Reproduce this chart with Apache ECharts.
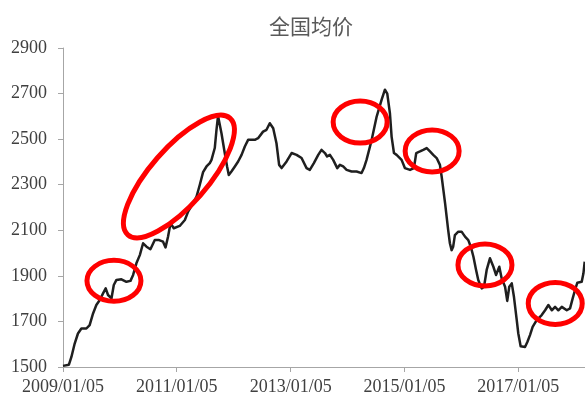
<!DOCTYPE html>
<html>
<head>
<meta charset="utf-8">
<script src="https://cdn.jsdelivr.net/npm/echarts@6/dist/echarts.min.js"></script>
<style>
  html, body { margin: 0; padding: 0; background: #ffffff; }
  #chart { width: 585px; height: 397px; }
</style>
</head>
<body>
<div id="chart"></div>
<script>
// Weekly national average price, sampled at turning points
const dates = [
  '2009-01-05','2009-02-12','2009-02-28','2009-03-21','2009-04-11','2009-05-03','2009-06-04','2009-06-25',
  '2009-07-17','2009-08-07','2009-08-29','2009-09-19','2009-10-06','2009-10-21','2009-11-12','2009-11-27',
  '2009-12-14','2010-01-15','2010-02-16','2010-03-14','2010-03-31','2010-04-21','2010-05-13','2010-06-03',
  '2010-06-25','2010-07-20','2010-08-17','2010-09-14','2010-10-09','2010-10-25','2010-11-10','2010-11-26',
  '2010-12-17','2011-01-24','2011-02-26','2011-03-19','2011-04-10','2011-05-12','2011-06-02','2011-06-23',
  '2011-07-15','2011-08-05','2011-08-16','2011-09-06','2011-09-17','2011-09-27','2011-10-19','2011-11-09',
  '2011-11-24','2011-12-05','2011-12-22','2012-01-13','2012-02-03','2012-02-25','2012-03-17','2012-04-07',
  '2012-04-18','2012-05-20','2012-06-10','2012-07-12','2012-08-03','2012-08-24','2012-09-15','2012-10-06',
  '2012-10-23','2012-11-08','2012-12-10','2013-01-11','2013-02-12','2013-03-16','2013-04-17','2013-05-08',
  '2013-06-03','2013-07-01','2013-07-22','2013-08-13','2013-08-27','2013-09-14','2013-10-05','2013-10-31',
  '2013-11-17','2013-12-08','2013-12-30','2014-01-31','2014-03-04','2014-04-05','2014-04-20','2014-05-07',
  '2014-06-09','2014-07-11','2014-08-12','2014-09-02','2014-09-17','2014-10-04','2014-10-15','2014-10-30',
  '2014-11-16','2014-12-18','2015-01-08','2015-02-10','2015-03-07','2015-03-22','2015-04-15','2015-05-06',
  '2015-05-28','2015-06-18','2015-07-09','2015-07-31','2015-08-21','2015-09-01','2015-09-12','2015-09-23',
  '2015-10-03','2015-10-13','2015-10-24','2015-11-04','2015-11-14','2015-11-25','2015-12-17','2016-01-07',
  '2016-01-29','2016-02-19','2016-03-06','2016-03-23','2016-04-09','2016-04-23','2016-05-15','2016-05-30',
  '2016-06-16','2016-07-07','2016-07-29','2016-08-15','2016-09-05','2016-09-20','2016-10-12','2016-10-26',
  '2016-11-08','2016-11-24','2016-12-08','2016-12-26','2017-01-05','2017-01-20','2017-02-17','2017-03-04',
  '2017-03-21','2017-04-07','2017-05-03','2017-06-04','2017-06-26','2017-07-17','2017-08-08','2017-08-29',
  '2017-09-19','2017-10-11','2017-11-12','2017-12-03','2017-12-20','2018-01-04','2018-01-19','2018-02-16',
  '2018-02-27','2018-03-07'
];

const prices = [
  1505, 1510, 1544, 1603, 1647, 1669, 1669, 1684,
  1735, 1772, 1794, 1823, 1845, 1816, 1801, 1860,
  1882, 1885, 1874, 1878, 1904, 1955, 1991, 2043,
  2028, 2017, 2057, 2057, 2050, 2025, 2072, 2131,
  2109, 2119, 2145, 2182, 2207, 2248, 2300, 2355,
  2380, 2395, 2409, 2461, 2541, 2602, 2526, 2439,
  2380, 2343, 2358, 2380, 2402, 2431, 2468, 2497,
  2504, 2497, 2504, 2533, 2541, 2570, 2548, 2482,
  2387, 2373, 2402, 2439, 2431, 2417, 2373, 2365,
  2395, 2431, 2453, 2439, 2424, 2431, 2409, 2373,
  2387, 2380, 2365, 2358, 2358, 2351, 2373, 2409,
  2497, 2599, 2673, 2717, 2700, 2614, 2510, 2439,
  2431, 2409, 2373, 2365, 2373, 2439, 2446, 2453,
  2461, 2446, 2431, 2417, 2387, 2336, 2277, 2219,
  2160, 2101, 2043, 2013, 2028, 2079, 2094, 2094,
  2072, 2057, 2028, 1984, 1926, 1882, 1845, 1852,
  1926, 1977, 1940, 1904, 1940, 1889, 1852, 1790,
  1852, 1867, 1808, 1706, 1647, 1591, 1588, 1610,
  1640, 1676, 1706, 1728, 1749, 1772, 1749, 1764,
  1749, 1764, 1749, 1757, 1801, 1838, 1870, 1874,
  1911, 1962
];

// Axis labels shown every two years
const xLabelDates = ['2009-01-05', '2011-01-05', '2013-01-05', '2015-01-05', '2017-01-05'];
const xRange = ['2009-01-05', '2018-03-09'];
const yTicks = [1500, 1700, 1900, 2100, 2300, 2500, 2700, 2900];

// Highlighted episodes (centre date and price of each circled region)
const highlightDates = ['2009-11-28', '2011-01-19', '2014-03-27', '2015-07-02', '2016-06-05', '2017-08-30'];
const highlightPrices = [1878, 2336, 2575, 2448, 1948, 1779];

const chartTitle = '全国均价';

function toTime(s) {
  const p = s.split('-').map(Number);
  return new Date(p[0], p[1] - 1, p[2]).getTime();
}
function pad(n) { return n < 10 ? '0' + n : '' + n; }
function fmtDate(t) {
  const d = new Date(t);
  return d.getFullYear() + '/' + pad(d.getMonth() + 1) + '/' + pad(d.getDate());
}

const axisGrey = '#a6a6a6';
const labelFont = { fontFamily: 'Liberation Serif', fontSize: 18, color: '#404040' };
const xTickTimes = xLabelDates.map(toTime);

const chart = echarts.init(document.getElementById('chart'), null, { renderer: 'canvas' });

chart.setOption({
  animation: false,
  backgroundColor: '#ffffff',
  title: {
    text: chartTitle,
    left: 269,
    top: 16,
    padding: 0,
    textStyle: {
      fontFamily: 'Noto Sans CJK SC',
      fontSize: 21,
      fontWeight: 'normal',
      color: '#595959'
    }
  },
  grid: { left: 63, right: 0, top: 48, bottom: 30 },
  xAxis: {
    // dates handled as millisecond timestamps on a numeric scale
    type: 'value',
    min: toTime(xRange[0]),
    max: toTime(xRange[1]),
    axisLine: { show: true, lineStyle: { color: axisGrey, width: 1 } },
    axisTick: { show: true, length: 5, customValues: xTickTimes, lineStyle: { color: axisGrey } },
    axisLabel: Object.assign({
      customValues: xTickTimes,
      formatter: function (v) { return fmtDate(v); },
      margin: 11,
      hideOverlap: false
    }, labelFont),
    splitLine: { show: false }
  },
  yAxis: {
    type: 'value',
    min: yTicks[0],
    max: yTicks[yTicks.length - 1],
    interval: yTicks[1] - yTicks[0],
    axisLine: { show: true, lineStyle: { color: axisGrey, width: 1 } },
    axisTick: { show: true, length: 5, lineStyle: { color: axisGrey } },
    axisLabel: Object.assign({
      margin: 16,
      formatter: function (v) { return String(v); }
    }, labelFont),
    splitLine: { show: false }
  },
  series: [{
    type: 'line',
    data: dates.map(function (d, i) { return [toTime(d), prices[i]]; }),
    showSymbol: false,
    symbol: 'none',
    lineStyle: { color: '#1f1f1f', width: 2.5, join: 'round' },
    clip: false
  }]
});

// Red ellipses around the highlighted episodes
const ringSizes = [
  { rx: 27, ry: 20.5, rot: 0 },
  { rx: 77.5, ry: 28.5, rot: 48.8 },
  { rx: 27, ry: 21, rot: 0 },
  { rx: 27, ry: 21, rot: 0 },
  { rx: 27, ry: 21, rot: 0 },
  { rx: 27, ry: 21, rot: 0 }
];
const rings = highlightDates.map(function (d, i) {
  const c = chart.convertToPixel({ xAxisIndex: 0, yAxisIndex: 0 }, [toTime(d), highlightPrices[i]]);
  const s = ringSizes[i];
  return {
    type: 'ellipse',
    x: c[0],
    y: c[1],
    rotation: s.rot * Math.PI / 180,
    shape: { cx: 0, cy: 0, rx: s.rx, ry: s.ry },
    style: { fill: 'none', stroke: '#ff0000', lineWidth: 5 },
    z: 100
  };
});
chart.setOption({ graphic: rings });
</script>
</body>
</html>
